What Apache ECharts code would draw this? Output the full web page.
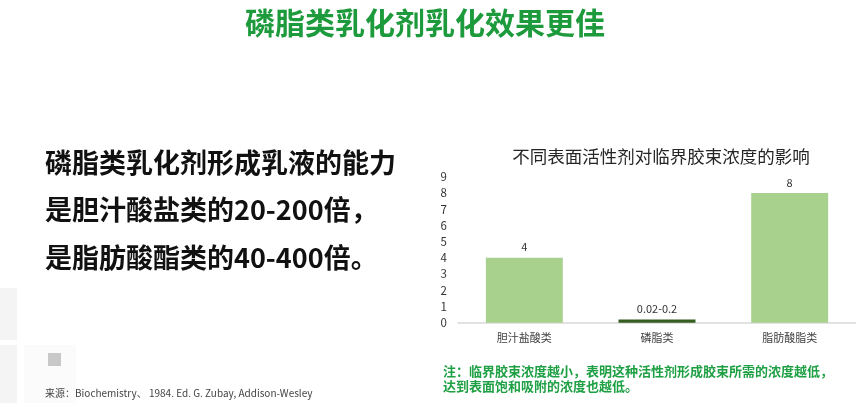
<!DOCTYPE html>
<html><head><meta charset="utf-8">
<script src="https://cdn.jsdelivr.net/npm/echarts@6/dist/echarts.min.js"></script>
<style>html,body{margin:0;padding:0;background:#fff;}#c{width:856px;height:403px;}</style>
</head><body><div id="c"></div>
<script>
const categories = ['胆汁盐酸类', '磷脂类', '脂肪酸脂类'];
const values = [4, 0.2, 8];
const valueLabels = ['4', '0.02-0.2', '8'];
const barColors = ['#a9d18e', '#355e20', '#a9d18e'];
const yTicks = [0, 1, 2, 3, 4, 5, 6, 7, 8, 9];
const pageTitle = '磷脂类乳化剂乳化效果更佳';
const leftLines = ['磷脂类乳化剂形成乳液的能力', '是胆汁酸盐类的20-200倍，', '是脂肪酸酯类的40-400倍。'];
const chartTitle = '不同表面活性剂对临界胶束浓度的影响';
const noteLines = ['注：临界胶束浓度越小，表明这种活性剂形成胶束所需的浓度越低，', '达到表面饱和吸附的浓度也越低。'];
const sourceText = '来源：Biochemistry、 1984. Ed. G. Zubay, Addison-Wesley';

const FF = '"Noto Sans CJK SC", "Noto Sans", sans-serif';
const chart = echarts.init(document.getElementById('c'));
chart.setOption({
  backgroundColor: '#ffffff',
  animation: false,
  title: {
    text: chartTitle, left: 656, top: 143, textAlign: 'center',
    textStyle: { fontFamily: FF, fontSize: 17.5, fontWeight: 'normal', color: '#262626' }
  },
  grid: { left: 458, width: 407, top: 176.7, bottom: 80.3, containLabel: false },
  xAxis: {
    type: 'category', data: categories,
    axisLine: { lineStyle: { color: '#d9d9d9', width: 1.5 } },
    axisTick: { show: false },
    axisLabel: { fontFamily: FF, fontSize: 11, color: '#404040', margin: 10 }
  },
  yAxis: {
    type: 'value', min: yTicks[0], max: yTicks[yTicks.length - 1], interval: 1,
    splitLine: { show: false }, axisLine: { show: false }, axisTick: { show: false },
    axisLabel: { fontFamily: FF, fontSize: 11.5, color: '#333333', margin: 11 }
  },
  series: [{
    type: 'bar', barWidth: '58%',
    data: values.map((v, i) => ({ value: v, itemStyle: { color: barColors[i] } })),
    label: {
      show: true, position: 'top', distance: 5,
      fontFamily: FF, fontSize: 11, color: '#333333',
      formatter: p => valueLabels[p.dataIndex]
    }
  }],
  graphic: [
    { type: 'rect', shape: { x: 0, y: 288, width: 17, height: 52 }, style: { fill: '#f4f4f4' }, silent: true },
    { type: 'rect', shape: { x: 0, y: 345, width: 17, height: 58 }, style: { fill: '#f4f4f4' }, silent: true },
    { type: 'rect', shape: { x: 24, y: 345, width: 52, height: 58 }, style: { fill: '#fbfbfb' }, silent: true },
    { type: 'rect', shape: { x: 48, y: 353, width: 13, height: 13 }, style: { fill: '#c8c8c8' }, silent: true },
    { type: 'text', style: { text: pageTitle, x: 425, y: 23, align: 'center', verticalAlign: 'middle', font: 'bold 30px ' + FF, fill: '#1c9a3c' } },
    ...leftLines.map((t, i) => ({
      type: 'text', style: { text: t, x: 45, y: [163, 210, 258][i], verticalAlign: 'middle', font: 'bold 27px ' + FF, fill: '#111111' }
    })),
    ...noteLines.map((t, i) => ({
      type: 'text', style: { text: t, x: 443, y: [371, 386][i], verticalAlign: 'middle', font: 'bold 13px ' + FF, fill: '#1fa045' }
    })),
    { type: 'text', style: { text: sourceText, x: 45, y: 393, verticalAlign: 'middle', font: '10px ' + FF, fill: '#444444' } }
  ]
});
</script></body></html>
